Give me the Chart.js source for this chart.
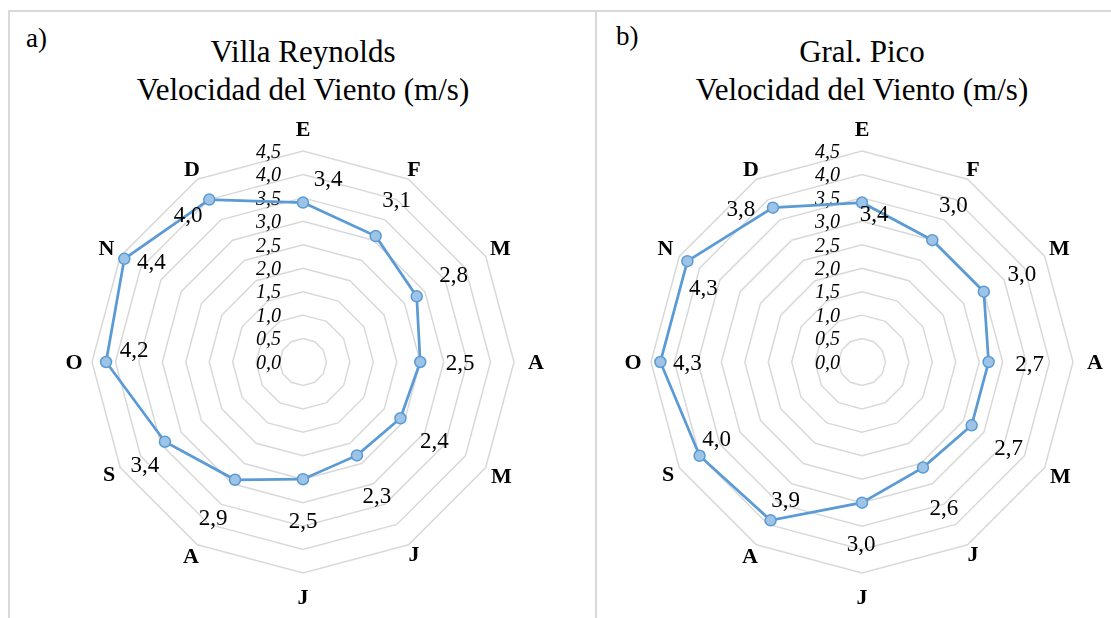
<!DOCTYPE html>
<html>
<head>
<meta charset="utf-8">
<script src="https://cdn.jsdelivr.net/npm/chart.js@4/dist/chart.umd.min.js"></script>
<style>
html,body{margin:0;padding:0;background:#fff;}
body{width:1111px;height:618px;overflow:hidden;position:relative;font-family:"Liberation Serif","Times New Roman",serif;color:#000;}
.frame{position:absolute;background:#d9d9d9;}
.t{position:absolute;white-space:nowrap;text-align:center;}
canvas{position:absolute;}
</style>
</head>
<body>
<div class="frame" style="left:8px;top:10px;width:1103px;height:2px"></div>
<div class="frame" style="left:8px;top:10px;width:2px;height:608px"></div>
<div class="frame" style="left:595px;top:10px;width:2px;height:608px"></div>

<div class="t" style="left:26px;top:23px;font-size:27px;line-height:30px;text-align:left">a)</div>
<div class="t" style="left:103px;top:33px;width:400px;font-size:31px;line-height:38px">Villa Reynolds</div>
<div class="t" style="left:103px;top:71px;width:400px;font-size:31px;line-height:38px">Velocidad del Viento (m/s)</div>

<div class="t" style="left:616px;top:21px;font-size:27px;line-height:30px;text-align:left">b)</div>
<div class="t" style="left:662px;top:33px;width:400px;font-size:31px;line-height:38px">Gral. Pico</div>
<div class="t" style="left:662px;top:71px;width:400px;font-size:31px;line-height:38px">Velocidad del Viento (m/s)</div>

<canvas id="chartA" width="500" height="500" style="left:53px;top:112px"></canvas>
<canvas id="chartB" width="500" height="500" style="left:612px;top:112px"></canvas>

<script>
// ---- data ----
const months = ['E','F','M','A','M','J','J','A','S','O','N','D'];
const villaReynolds = [3.4, 3.1, 2.8, 2.5, 2.4, 2.3, 2.5, 2.9, 3.4, 4.2, 4.4, 4.0];
const gralPico = [3.4, 3.0, 3.0, 2.7, 2.7, 2.6, 3.0, 3.9, 4.0, 4.3, 4.3, 3.8];
const tickValues = [0, 0.5, 1, 1.5, 2, 2.5, 3, 3.5, 4, 4.5];
const tickLabels = ['0,0','0,5','1,0','1,5','2,0','2,5','3,0','3,5','4,0','4,5'];

// ---- layout / style (not data) ----
const pointLabelGap = [22, 11, 17, 22, 18, 11, 24, 13, 13, 18, 16, 11];
const labelOffsetsA = [[25,-24],[21,-36],[37,-21],[40,1],[34,23],[20,41],[0,42],[-22,38],[-20,23],[28,-12],[27,3],[-21,15]];
const labelOffsetsB = [[12,11],[21,-35],[38,-18],[41,2],[37,23],[21,40],[-1,41],[15,-20],[17,-17],[27,1],[16,27],[-32,1]];

function fmt(v){ return v.toFixed(1).replace('.', ','); }

function makePlugin(offsets){
  return {
    id: 'excelLabels',
    beforeDatasetsDraw(chart){
      const s = chart.scales.r, ctx = chart.ctx;
      ctx.save();
      ctx.fillStyle = '#000';
      ctx.font = 'italic 20px "Liberation Serif"';
      ctx.textAlign = 'right';
      ctx.textBaseline = 'middle';
      tickValues.forEach((v, i) => {
        ctx.fillText(tickLabels[i], s.xCenter - 22, s.yCenter - s.getDistanceFromCenterForValue(v) + 1.5);
      });
      ctx.font = 'bold 22px "Liberation Serif"';
      ctx.textAlign = 'center';
      months.forEach((m, i) => {
        const p = s.getPointPosition(i, s.drawingArea + pointLabelGap[i]);
        ctx.fillText(m, p.x, p.y + 1);
      });
      ctx.restore();
    },
    afterDatasetsDraw(chart){
      const ctx = chart.ctx;
      const meta = chart.getDatasetMeta(0);
      const vals = chart.data.datasets[0].data;
      ctx.save();
      ctx.fillStyle = '#000';
      ctx.font = '23px "Liberation Serif"';
      ctx.textAlign = 'center';
      ctx.textBaseline = 'middle';
      meta.data.forEach((el, i) => {
        ctx.fillText(fmt(vals[i]), el.x + offsets[i][0], el.y + offsets[i][1] + 1);
      });
      ctx.restore();
    }
  };
}

function makeChart(id, values, offsets){
  return new Chart(document.getElementById(id), {
    type: 'radar',
    data: {
      labels: months,
      datasets: [{
        data: values,
        borderColor: '#5b9bd5',
        borderWidth: 2.75,
        backgroundColor: 'rgba(0,0,0,0)',
        fill: false,
        tension: 0,
        pointRadius: 5.5,
        pointBackgroundColor: '#9dc3e6',
        pointBorderColor: '#5b9bd5',
        pointBorderWidth: 1.5
      }]
    },
    options: {
      responsive: false,
      animation: false,
      devicePixelRatio: 1,
      layout: { padding: 39 },
      plugins: { legend: { display: false }, tooltip: { enabled: false }, title: { display: false } },
      scales: {
        r: {
          min: 0, max: 4.5,
          ticks: { display: false, stepSize: 0.5 },
          grid: { color: '#d9d9d9', lineWidth: 1.5 },
          angleLines: { display: false },
          pointLabels: { display: false }
        }
      }
    },
    plugins: [makePlugin(offsets)]
  });
}

makeChart('chartA', villaReynolds, labelOffsetsA);
makeChart('chartB', gralPico, labelOffsetsB);
</script>
</body>
</html>
